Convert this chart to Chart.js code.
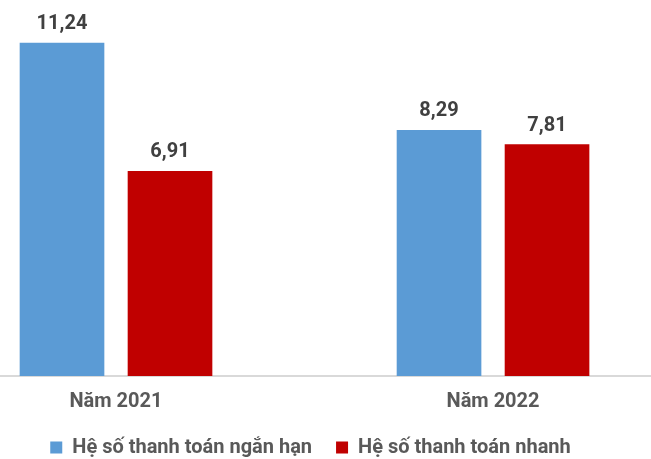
<!DOCTYPE html>
<html>
<head>
<meta charset="utf-8">
<script src="https://cdn.jsdelivr.net/npm/chart.js@4.4.0/dist/chart.umd.min.js"></script>
<style>
  html, body { margin: 0; padding: 0; background: #fff; }
  #wrap { width: 651px; height: 459px; position: relative; }
</style>
</head>
<body>
<div id="wrap"><canvas id="myChart"></canvas></div>
<script>
// chart values
const categories = ['Năm 2021', 'Năm 2022'];
const seriesNames = ['Hệ số thanh toán ngắn hạn', 'Hệ số thanh toán nhanh'];
const shortTerm = [11.24, 8.29];
const quick = [6.91, 7.81];
const colors = ['#5b9bd5', '#c00000'];

const toPoints = (arr) => arr.map((v, i) => ({x: i, y: v}));

// writes the value above each bar, with a comma as decimal mark
const valueLabels = {
    id: 'valueLabels',
    afterDatasetsDraw(chart) {
        const ctx = chart.ctx;
        ctx.save();
        ctx.font = 'bold 20px Roboto';
        ctx.fillStyle = '#404040';
        ctx.textAlign = 'center';
        ctx.textBaseline = 'alphabetic';
        chart.data.datasets.forEach((ds, di) => {
            chart.getDatasetMeta(di).data.forEach((bar, i) => {
                const txt = ds.data[i].y.toFixed(2).replace('.', ',');
                ctx.fillText(txt, bar.x, bar.y - 14);
            });
        });
        ctx.restore();
    }
};

const ctx = document.getElementById('myChart');
new Chart(ctx, {
    type: 'bar',
    data: {
        datasets: [
            {label: seriesNames[0], data: toPoints(shortTerm), backgroundColor: colors[0]},
            {label: seriesNames[1], data: toPoints(quick), backgroundColor: colors[1]}
        ]
    },
    options: {
        responsive: true,
        maintainAspectRatio: false,
        animation: false,
        barThickness: 108,
        maxBarThickness: 84,
        layout: { padding: {top: 20.5, left: -30, right: 0, bottom: -8.5} },
        scales: {
            x: {
                type: 'linear',
                offset: false,
                bounds: 'data',
                min: -0.3077,
                max: 1.419,
                grid: { display: false, drawTicks: false },
                border: { color: '#d9d9d9', width: 2 },
                afterBuildTicks: (scale) => { scale.ticks = categories.map((c, i) => ({value: i})); },
                afterFit: (scale) => { scale.height = 37.5; },
                ticks: {
                    callback: (v) => categories[v],
                    color: '#595959',
                    font: {family: 'Roboto', size: 20, weight: 'bold'},
                    padding: 13.5,
                    autoSkip: false,
                    maxRotation: 0
                }
            },
            y: {
                display: false,
                min: 0,
                max: 12
            }
        },
        plugins: {
            legend: {
                position: 'bottom',
                labels: {
                    boxWidth: 12,
                    boxHeight: 12,
                    padding: 24,
                    color: '#595959',
                    font: {family: 'Roboto', size: 20, weight: 'bold'}
                }
            },
            tooltip: { enabled: false }
        }
    },
    plugins: [valueLabels]
});
</script>
</body>
</html>
